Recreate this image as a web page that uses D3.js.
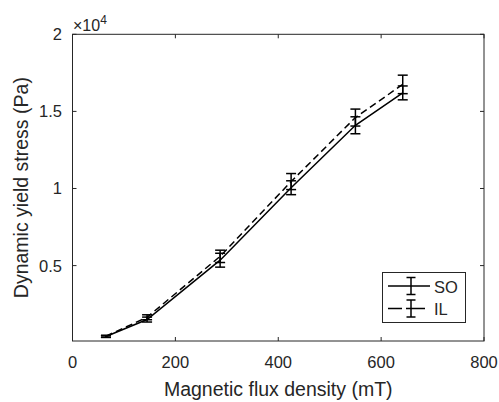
<!DOCTYPE html>
<html>
<head>
<meta charset="utf-8">
<script src="https://cdn.jsdelivr.net/npm/d3@7"></script>
<style>
  body { margin: 0; background: #fff; }
  text { font-family: "Liberation Sans", Arial, sans-serif; fill: #262626; }
</style>
</head>
<body>
<svg id="chart" width="499" height="402"></svg>
<script>
// data
var fluxDensity = [65, 145, 287, 425, 550, 642];
var soStress = [400, 1500, 5350, 10050, 14100, 16200];
var soErr = [60, 160, 450, 450, 550, 450];
var ilStress = [420, 1650, 5600, 10450, 14600, 16750];
var ilErr = [60, 160, 400, 520, 550, 600];
var xTicks = [0, 200, 400, 600, 800];
var yTicks = [5000, 10000, 15000, 20000];

var seriesList = [
  { name: "SO", y: soStress, e: soErr, dash: null, legDash: null },
  { name: "IL", y: ilStress, e: ilErr, dash: "7,4", legDash: "14,4,19,40" }
];

var svg = d3.select("#chart");
var axisColor = "#262626";

var x = d3.scaleLinear().domain([0, 800]).range([72.5, 484]);
var y = d3.scaleLinear().domain([110, 20000]).range([341, 34.3]);

// box
svg.append("rect")
  .attr("x", x(0)).attr("y", y(20000))
  .attr("width", x(800) - x(0)).attr("height", y(110) - y(20000))
  .attr("fill", "none").attr("stroke", axisColor).attr("stroke-width", 1);

// ticks (inward, on all four sides)
var tl = 4;
xTicks.forEach(function(t) {
  svg.append("line").attr("x1", x(t)).attr("x2", x(t)).attr("y1", y(110)).attr("y2", y(110) - tl)
    .attr("stroke", axisColor);
  svg.append("line").attr("x1", x(t)).attr("x2", x(t)).attr("y1", y(20000)).attr("y2", y(20000) + tl)
    .attr("stroke", axisColor);
  svg.append("text").attr("x", x(t)).attr("y", 368)
    .attr("text-anchor", "middle").style("font-size", "16.5px").text(t);
});
yTicks.forEach(function(t) {
  svg.append("line").attr("x1", x(0)).attr("x2", x(0) + tl).attr("y1", y(t)).attr("y2", y(t))
    .attr("stroke", axisColor);
  svg.append("line").attr("x1", x(800)).attr("x2", x(800) - tl).attr("y1", y(t)).attr("y2", y(t))
    .attr("stroke", axisColor);
  svg.append("text").attr("x", 62).attr("y", y(t) + 6)
    .attr("text-anchor", "end").style("font-size", "16.5px").text(d3.format("~g")(t / 10000));
});

// exponent label
var ex = svg.append("text").attr("x", 73).attr("y", 31).style("font-size", "16px");
ex.append("tspan").text("\u00d710");
ex.append("tspan").attr("dy", -7).style("font-size", "12px").text("4");

// axis titles
svg.append("text").attr("x", (x(0) + x(800)) / 2).attr("y", 396)
  .attr("text-anchor", "middle").style("font-size", "19.5px").text("Magnetic flux density (mT)");
svg.append("text").attr("transform", "translate(28," + ((y(110) + y(20000)) / 2) + ") rotate(-90)")
  .attr("text-anchor", "middle").style("font-size", "19.5px").text("Dynamic yield stress (Pa)");

// series
var line = d3.line().x(function(d) { return x(d[0]); }).y(function(d) { return y(d[1]); });
var cap = 5;
seriesList.forEach(function(s) {
  var pts = fluxDensity.map(function(v, i) { return [v, s.y[i]]; });
  svg.append("path").attr("d", line(pts))
    .attr("fill", "none").attr("stroke", "#000").attr("stroke-width", 1.5)
    .attr("stroke-dasharray", s.dash);
  var g = svg.append("g").attr("stroke", "#000").attr("stroke-width", 1.5);
  fluxDensity.forEach(function(v, i) {
    var cx = x(v), lo = y(s.y[i] - s.e[i]), hi = y(s.y[i] + s.e[i]);
    g.append("line").attr("x1", cx).attr("x2", cx).attr("y1", lo).attr("y2", hi);
    g.append("line").attr("x1", cx - cap).attr("x2", cx + cap).attr("y1", lo).attr("y2", lo);
    g.append("line").attr("x1", cx - cap).attr("x2", cx + cap).attr("y1", hi).attr("y2", hi);
  });
});

// legend
var lg = svg.append("g");
lg.append("rect").attr("x", 382.5).attr("y", 272.5).attr("width", 83).attr("height", 50)
  .attr("fill", "#fff").attr("stroke", axisColor).attr("stroke-width", 1);
seriesList.forEach(function(s, i) {
  var ly = 286 + i * 22.5;
  lg.append("line").attr("x1", 388).attr("x2", 430).attr("y1", ly).attr("y2", ly)
    .attr("stroke", "#000").attr("stroke-width", 1.5).attr("stroke-dasharray", s.legDash);
  lg.append("line").attr("x1", 411).attr("x2", 411).attr("y1", ly - 8.5).attr("y2", ly + 8.5)
    .attr("stroke", "#000").attr("stroke-width", 1.5);
  lg.append("line").attr("x1", 406.5).attr("x2", 415.5).attr("y1", ly - 8.5).attr("y2", ly - 8.5)
    .attr("stroke", "#000").attr("stroke-width", 1.5);
  lg.append("line").attr("x1", 406.5).attr("x2", 415.5).attr("y1", ly + 8.5).attr("y2", ly + 8.5)
    .attr("stroke", "#000").attr("stroke-width", 1.5);
  lg.append("text").attr("x", 434).attr("y", ly + 6.5).style("font-size", "16.5px").text(s.name);
});
</script>
</body>
</html>
